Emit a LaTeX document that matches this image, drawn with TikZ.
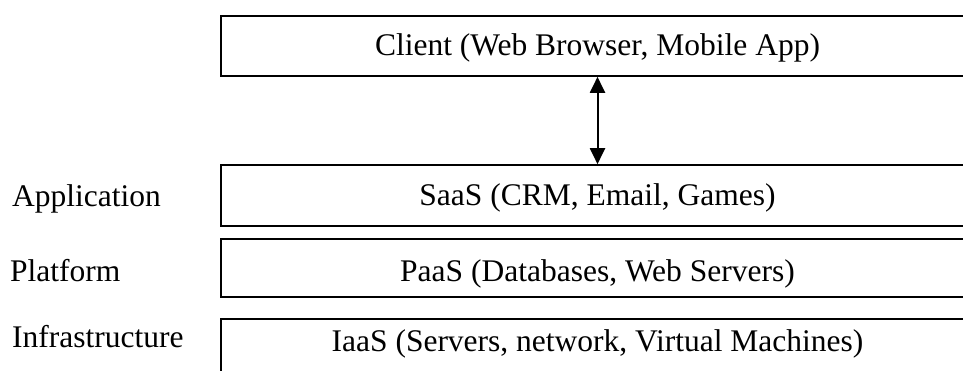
\documentclass[tikz,border=0pt]{standalone}
\usepackage{fontspec}
\setmainfont{Liberation Serif}
\usetikzlibrary{arrows.meta}
\tikzstyle{every node}=[font=\fontsize{31.5}{36}\selectfont,inner sep=0pt]
\tikzstyle{layer}=[draw=black,line width=1.6pt,minimum width=753pt,text height=28pt,text depth=7pt]
\tikzstyle{tag}=[anchor=base west]

\begin{document}
\begin{tikzpicture}[x=1pt,y=-1pt]
    \useasboundingbox (0,0) rectangle (963,371);
    \clip (0,0) rectangle (963,371);
    % service layers
    \node[layer,minimum height=60pt,text depth=9pt] (client) at (597.5,46) {Client (Web Browser, Mobile App)};
    \node[layer,minimum height=61pt] (saas) at (597.5,195.5) {SaaS (CRM, Email, Games)};
    \node[layer,minimum height=57.5pt,text depth=1pt] (paas) at (597.5,268) {PaaS (Databases, Web Servers)};
    \node[layer,minimum height=60pt,text depth=22pt] (iaas) at (597.5,348.7) {IaaS (Servers, network, Virtual Machines)};
    % labels on the left
    \node[tag] (app) at (12,206.5) {Application};
    \node[tag] (plat) at (10,281) {Platform};
    \node[tag] (infra) at (12,347.5) {Infrastructure};
    \draw[line width=2pt,{Triangle[length=16pt,width=15pt]}-{Triangle[length=16pt,width=15pt]}] (client.south) -- (saas.north);
\end{tikzpicture}
\end{document}
